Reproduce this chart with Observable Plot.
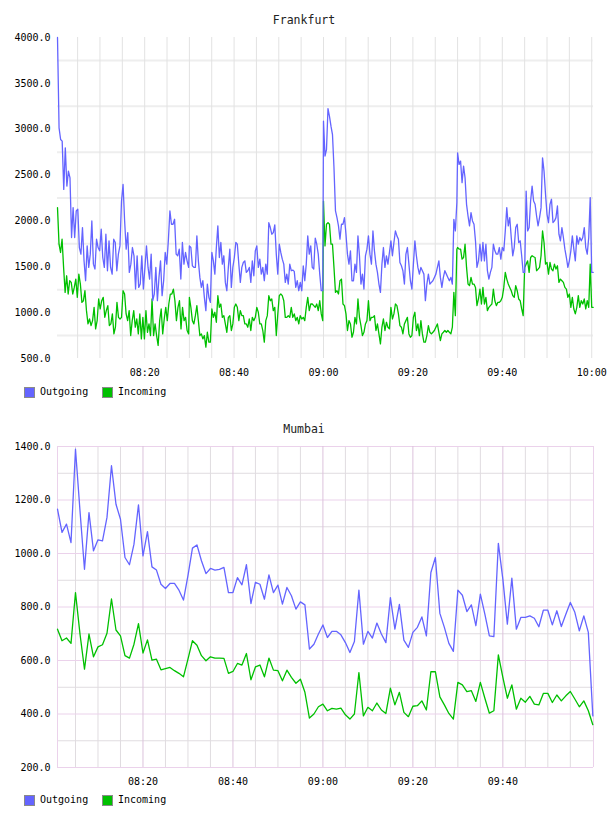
<!DOCTYPE html>
<html><head><meta charset="utf-8">
<script src="https://cdn.jsdelivr.net/npm/d3@7"></script>
<script src="https://cdn.jsdelivr.net/npm/@observablehq/plot@0.6"></script>
<style>
body{margin:0;background:#fff;width:608px;height:816px;position:relative;overflow:hidden;font-family:"DejaVu Sans Mono",monospace;}
.title{position:absolute;left:0;width:608px;text-align:center;font-size:11.5px;line-height:14px;color:#222;}
.chart{position:absolute;left:0;}
.sw{position:absolute;width:9px;height:9px;border:1px solid #8a8a8a;}
.lt{position:absolute;font-size:10px;line-height:12px;color:#000;}
</style></head><body>
<script>
// ---------- DATA ----------
const seriesNames = ["Outgoing", "Incoming"];
const BLUE = "#6464ff", GREEN = "#00c000";

// Frankfurt: four half-hour segments (start, end), values evenly spread inside each
const frankfurtSegments = [["08:00:30","08:29:50"],["08:30:00","08:59:50"],["09:00:00","09:29:50"],["09:30:00","10:00:20"]];
const frankfurtOut1 = [4000,3015,2888,2870,2344,2797,2380,2543,2470,1819,2145,1819,2109,2127,1710,1638,1928,1565,1348,1728,1493,1638,2000,1529,1475,1801,1710,1674,1910,1601,1493,1855,1457,1783,1493,1420,1801,1765,1457,1638,1728,2217,2398,2000,1692,1873,1439,1529,1710,1620,1257,1620,1275,1312,1620,1257,1493,1728,1493,1366,1638,1130,1203,1493,1130,1384,1565,1185,1348,1656,1529,1783,2109,1964,1964,2018,1638,1620,1692,1366,1765,1529,1656,1565,1493];
const frankfurtOut2 = [1728,1710,1511,1493,1493,1837,1565,1384,1275,1348,1167,1022,1312,1167,1112,1656,1565,1420,1710,1946,1601,1765,1529,1620,1330,1239,1493,1692,1275,1493,1601,1765,1746,1529,1330,1493,1547,1565,1439,1457,1493,1330,1565,1402,1674,1728,1493,1583,1420,1493,1348,1529,1420,1982,1928,1855,1873,1957,1638,1420,1746,1656,1583,1529,1330,1420,1312,1529,1457,1464,1450,1275,1348,1239,1330,1239,1511,1348,1529,1837,1638,1728,1493,1475,1812,1746,1638,1420,1239,1239];
const frankfurtOut3 = [3087,2707,2779,3225,3141,3033,2942,2580,2109,2036,1946,1801,1964,1964,2036,1855,1638,1529,1674,1348,1348,1529,1439,1837,1620,1312,1420,1257,1620,1692,1837,1638,1529,1891,1674,1529,1439,1312,1221,1529,1710,1493,1620,1529,1656,1783,1620,1765,1891,1837,1801,1547,1511,1457,1312,1638,1710,1529,1348,1257,1529,1783,1620,1493,1420,1493,1457,1420,1130,1312,1420,1312,1330,1348,1384,1420,1493,1565,1384,1275,1384,1457,1420,1384,1348,1384,1312,2018,1891,2200];
const frankfurtOut4 = [2743,2616,2652,2417,2598,2471,2181,2054,1946,2091,2000,1964,1783,1493,1565,1746,1565,1765,1565,1746,1457,1366,1439,1493,1746,1674,1638,1638,1710,1583,1710,1674,1891,2145,1946,2036,1819,1620,1710,1928,1964,1765,1783,1620,1439,1439,2326,1891,1928,2217,2380,2217,2181,2054,1946,2036,2145,2688,2543,2290,2072,1982,2181,2236,1982,2000,2036,2163,1855,1783,1928,1819,1692,1601,1493,1565,1674,1837,1692,1565,1837,1746,1819,1783,1819,1928,1710,1638,1819,2254,1439,1439];
const frankfurtIn1 = [2145,1746,1656,1801,1493,1221,1402,1203,1348,1330,1203,1275,1366,1167,1420,1312,1112,1130,1239,1022,877,931,859,913,1058,823,913,1149,1040,1130,1167,949,1022,1076,859,877,986,768,841,1112,949,931,949,1239,1203,986,913,1022,750,913,1022,841,931,768,986,714,949,714,1022,786,877,750,1149,750,877,750,642,913,1040,768,931,1058,913,1094,1203,1203,1257,1130,913,1058,1130,823,1058,913,949,805,768];
const frankfurtIn2 = [1167,1058,913,877,967,1076,913,750,768,714,750,623,786,678,678,1040,949,1004,895,1185,1058,1094,949,967,877,786,949,967,805,877,1058,1094,1058,913,1022,967,967,877,877,841,931,805,949,913,949,1058,1004,877,877,805,678,913,967,1185,1130,1149,1022,1058,750,986,1185,1203,1185,1130,949,949,967,949,1058,949,986,913,949,877,967,931,949,913,1058,1167,1022,1094,1094,1076,1058,1094,1022,1130,986,913];
const frankfurtIn3 = [2217,1728,1964,1982,1964,1746,1746,1493,1221,1239,1203,1348,1366,1094,1076,986,805,913,877,732,786,949,877,1149,949,859,750,786,877,913,1130,913,949,949,967,805,877,768,660,841,931,805,895,841,823,1058,931,986,1094,1076,986,859,841,768,877,913,949,768,732,750,949,1004,805,877,750,913,768,678,678,750,859,786,768,786,805,841,877,786,696,768,786,805,786,805,786,768,841,1221,967,1692];
const frankfurtIn4 = [1710,1692,1692,1583,1601,1746,1493,1312,1294,1384,1312,1312,1275,1076,1149,1257,1094,1275,1094,1167,1022,1058,1076,1094,1257,1130,1076,1112,1112,1130,1167,1275,1439,1366,1312,1275,1239,1185,1167,1294,1239,1149,1130,1040,967,1493,1529,1565,1439,1601,1620,1609,1601,1457,1475,1493,1620,1891,1765,1529,1547,1420,1547,1475,1457,1529,1475,1511,1330,1366,1348,1330,1275,1257,1167,1203,1058,1167,1040,986,1058,1185,1058,1130,1094,1149,1040,1130,1058,1529,1058,1058];
const frankfurtYTicks = [500,1000,1500,2000,2500,3000,3500,4000];
const frankfurtGridY = [750,1250,1750,2250,2750,3250,3750];
const frankfurtXTicks = ["08:20","08:40","09:00","09:20","09:40","10:00"];

// Mumbai: one value per minute, 08:01 .. 10:00
const mumbaiStart = "08:01";
const mumbaiOut = [1166,1079,1110,1041,1390,1160,941,1153,1010,1051,
1047,1135,1328,1184,1128,985,958,1035,1182,991,
1082,950,938,885,869,888,888,863,826,917,
1020,1032,973,925,944,938,941,948,854,854,
910,883,958,813,892,885,829,920,854,882,
811,873,842,792,819,808,643,661,699,733,
686,709,709,696,667,630,671,863,661,709,
684,740,699,667,835,717,810,676,649,705,
724,763,692,929,985,776,724,664,634,863,
844,783,808,730,848,773,692,689,1038,904,
736,908,717,761,761,767,758,726,788,788,
733,786,727,773,817,780,711,767,705,393];
const mumbaiIn = [717,674,684,664,854,699,568,699,614,651,
659,702,830,714,692,618,609,661,738,628,
677,601,605,565,570,574,562,552,539,605,
674,657,618,599,614,609,609,608,552,559,
589,583,626,528,576,583,539,609,564,562,
524,564,537,515,530,481,385,400,427,437,
412,421,418,422,397,381,400,555,393,425,
412,441,415,402,497,434,481,406,390,429,
431,449,415,558,558,464,434,402,381,518,
509,484,487,447,518,459,403,412,621,537,
459,509,418,459,444,466,437,434,477,477,
443,471,449,468,484,456,427,449,412,360];
const mumbaiYTicks = [200,400,600,800,1000,1200,1400];
const mumbaiMinorY = [300,500,700,900,1100,1300];
const mumbaiXTicks = ["08:20","08:40","09:00","09:20","09:40"];

// ---------- BUILD ----------
const day = s => { const [h,m,sec] = s.split(":").map(Number); return new Date(2020,0,1,h,m,sec||0); };
const fmt = d3.timeFormat("%H:%M");
function buildSegments(bounds, segs) {
  const rows = [];
  bounds.forEach(([a,b],k) => {
    const vals = segs[k], t0 = +day(a), t1 = +day(b), n = vals.length;
    vals.forEach((v,i) => rows.push({t: new Date(t0 + (t1-t0)*i/(n-1)), v}));
  });
  return rows;
}
const fOut = buildSegments(frankfurtSegments, [frankfurtOut1,frankfurtOut2,frankfurtOut3,frankfurtOut4]);
const fIn = buildSegments(frankfurtSegments, [frankfurtIn1,frankfurtIn2,frankfurtIn3,frankfurtIn4]);
const m0 = +day(mumbaiStart);
const mOut = mumbaiOut.map((v,i) => ({t: new Date(m0 + i*60000), v}));
const mIn = mumbaiIn.map((v,i) => ({t: new Date(m0 + i*60000), v}));

const baseStyle = {fontFamily: "'DejaVu Sans Mono', monospace", fontSize: "10px", color: "#000", background: "transparent", overflow: "visible"};

const fDomain = [day("08:00:30"), day("10:00:24")];
const fGridX = d3.timeMinute.every(5).range(day("08:05"), day("10:00:01"));
const fChart = Plot.plot({
  width: 608, height: 352, marginLeft: 57, marginRight: 15, marginTop: 7, marginBottom: 24,
  style: baseStyle,
  x: {type: "time", domain: fDomain},
  y: {domain: [500, 4000]},
  marks: [
    Plot.ruleY(frankfurtGridY, {stroke: "#eeeeee", strokeWidth: 2}),
    Plot.ruleX(fGridX, {stroke: "#e2e2e2", strokeWidth: 1}),
    Plot.line(fIn, {x: "t", y: "v", stroke: GREEN, strokeWidth: 1.3}),
    Plot.line(fOut, {x: "t", y: "v", stroke: BLUE, strokeWidth: 1.3}),
    Plot.axisY({ticks: frankfurtYTicks, tickFormat: d3.format(".1f"), tickSize: 0, tickPadding: 7, label: null}),
    Plot.axisX({ticks: frankfurtXTicks.map(day), tickFormat: fmt, tickSize: 0, tickPadding: 10, label: null})
  ]
});

const mDomain = [day("08:01"), day("10:00:09")];
const mMajorX = mumbaiXTicks.map(day);
const mMinorX = d3.timeMinute.every(5).range(day("08:05"), day("10:00:01")).filter(d => d.getMinutes() % 20 !== 0);
const mChart = Plot.plot({
  width: 608, height: 353, marginLeft: 57, marginRight: 15, marginTop: 8, marginBottom: 24,
  style: baseStyle,
  x: {type: "time", domain: mDomain},
  y: {domain: [200, 1400]},
  marks: [
    Plot.ruleY(mumbaiMinorY, {stroke: "#e0dce0", strokeWidth: 1}),
    Plot.ruleX(mMinorX, {stroke: "#e0dce0", strokeWidth: 1}),
    Plot.ruleY(mumbaiYTicks, {stroke: "#ebd2eb", strokeWidth: 1}),
    Plot.ruleX(mMajorX, {stroke: "#dcc2dc", strokeWidth: 1}),
    Plot.ruleX(mDomain, {stroke: "#ebd2eb", strokeWidth: 1}),
    Plot.line(mIn, {x: "t", y: "v", stroke: GREEN, strokeWidth: 1.3}),
    Plot.line(mOut, {x: "t", y: "v", stroke: BLUE, strokeWidth: 1.3}),
    Plot.axisY({ticks: mumbaiYTicks, tickFormat: d3.format(".1f"), tickSize: 0, tickPadding: 7, label: null}),
    Plot.axisX({ticks: mMajorX, tickFormat: fmt, tickSize: 0, tickPadding: 10, label: null})
  ]
});

function add(html, cls, styleObj) {
  const el = document.createElement("div");
  el.className = cls; if (html !== null) el.textContent = html;
  Object.assign(el.style, styleObj); document.body.appendChild(el); return el;
}
function legend(top) {
  add(null, "sw", {left: "24px", top: top + "px", background: BLUE});
  add(seriesNames[0], "lt", {left: "40px", top: (top - 1) + "px"});
  add(null, "sw", {left: "102px", top: top + "px", background: GREEN});
  add(seriesNames[1], "lt", {left: "118px", top: (top - 1) + "px"});
}
add("Frankfurt", "title", {top: "13px"});
const c1 = add(null, "chart", {top: "30px"}); c1.appendChild(fChart);
legend(387);
add("Mumbai", "title", {top: "422px"});
const c2 = add(null, "chart", {top: "438px"}); c2.appendChild(mChart);
legend(795);
</script></body></html>
